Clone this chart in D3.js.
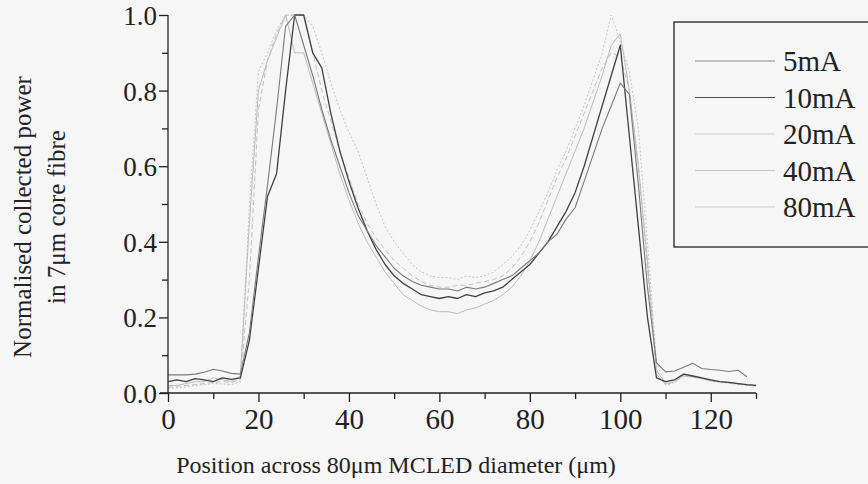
<!DOCTYPE html>
<html>
<head>
<meta charset="utf-8">
<script src="https://cdnjs.cloudflare.com/ajax/libs/d3/7.8.5/d3.min.js"></script>
<style>
  body { margin: 0; background: #f6f6f6; }
  svg { display: block; font-family: "Liberation Serif", "Times New Roman", serif; }
</style>
</head>
<body>
<div id="viz"></div>
<script>
// position across the MCLED (um), sampled every 2um
const positions = [0, 2, 4, 6, 8, 10, 12, 14, 16, 18, 20, 22, 24, 26, 28, 30, 32, 34, 36, 38,
  40, 42, 44, 46, 48, 50, 52, 54, 56, 58, 60, 62, 64, 66, 68, 70, 72, 74, 76, 78,
  80, 82, 84, 86, 88, 90, 92, 94, 96, 98, 100, 102, 104, 106, 108, 110, 112, 114, 116, 118,
  120, 122, 124, 126, 128, 130];

const labels = ['5mA', '10mA', '20mA', '40mA', '80mA'];

const power5 = [0.048, 0.048, 0.048, 0.05, 0.055, 0.063, 0.058, 0.052, 0.05, 0.16, 0.36, 0.55, 0.75, 0.97, 1.0, 0.92, 0.84, 0.75, 0.67, 0.6,
  0.53, 0.47, 0.43, 0.39, 0.36, 0.33, 0.31, 0.295, 0.285, 0.28, 0.275, 0.275, 0.27, 0.28, 0.275, 0.28, 0.29, 0.3, 0.31, 0.33,
  0.35, 0.37, 0.4, 0.42, 0.46, 0.49, 0.56, 0.63, 0.7, 0.76, 0.82, 0.79, 0.55, 0.28, 0.08, 0.056, 0.058, 0.068, 0.079, 0.065,
  0.062, 0.06, 0.057, 0.06, 0.043, null];

const power10 = [0.03, 0.035, 0.03, 0.038, 0.035, 0.03, 0.04, 0.036, 0.04, 0.14, 0.33, 0.52, 0.58, 0.8, 1.0, 1.0, 0.9, 0.86, 0.74, 0.64,
  0.56, 0.49, 0.43, 0.38, 0.34, 0.31, 0.29, 0.275, 0.26, 0.255, 0.25, 0.255, 0.25, 0.26, 0.255, 0.265, 0.27, 0.28, 0.3, 0.32,
  0.34, 0.37, 0.4, 0.44, 0.48, 0.53, 0.6, 0.68, 0.76, 0.84, 0.92, 0.68, 0.44, 0.2, 0.04, 0.03, 0.035, 0.05, 0.045, 0.04,
  0.035, 0.03, 0.028, 0.025, 0.022, 0.02];

const power20 = [0.02, 0.02, 0.025, 0.03, 0.03, 0.04, 0.035, 0.03, 0.045, 0.45, 0.8, 0.88, 0.94, 1.0, 0.9, 0.9, 0.82, 0.74, 0.66, 0.58,
  0.51, 0.45, 0.4, 0.36, 0.32, 0.29, 0.26, 0.245, 0.23, 0.22, 0.215, 0.215, 0.21, 0.22, 0.225, 0.235, 0.245, 0.26, 0.28, 0.31,
  0.35, 0.4, 0.46, 0.52, 0.58, 0.64, 0.7, 0.77, 0.84, 0.92, 0.95, 0.8, 0.6, 0.35, 0.06, 0.025, 0.03, 0.045, 0.042, 0.038,
  0.032, 0.03, 0.028, 0.025, 0.022, 0.02];

const power40 = [0.015, 0.018, 0.02, 0.022, 0.025, 0.028, 0.03, 0.028, 0.035, 0.3, 0.75, 0.88, 0.95, 1.0, 1.0, 1.0, 0.9, 0.8, 0.72, 0.64,
  0.57, 0.5, 0.45, 0.41, 0.38, 0.35, 0.33, 0.31, 0.295, 0.285, 0.28, 0.28, 0.285, 0.285, 0.29, 0.295, 0.3, 0.31, 0.33, 0.36,
  0.4, 0.45, 0.51, 0.57, 0.62, 0.68, 0.74, 0.8, 0.86, 0.9, 0.89, 0.8, 0.6, 0.33, 0.05, 0.022, 0.03, 0.048, 0.045, 0.04,
  0.033, 0.03, 0.026, 0.024, 0.02, 0.018];

const power80 = [0.012, 0.014, 0.016, 0.02, 0.022, 0.025, 0.024, 0.022, 0.03, 0.5, 0.85, 0.9, 0.96, 1.0, 1.0, 1.0, 0.97, 0.9, 0.82, 0.75,
  0.69, 0.64, 0.57, 0.5, 0.44, 0.4, 0.37, 0.34, 0.32, 0.31, 0.305, 0.305, 0.3, 0.31, 0.305, 0.31, 0.32, 0.34, 0.36, 0.39,
  0.43, 0.48, 0.53, 0.59, 0.64, 0.7, 0.76, 0.83, 0.9, 1.0, 0.93, 0.85, 0.7, 0.4, 0.08, 0.02, 0.028, 0.045, 0.044, 0.038,
  0.032, 0.028, 0.026, 0.023, 0.02, 0.018];

const xTicks = [0, 20, 40, 60, 80, 100, 120];
const yTicks = [0.0, 0.2, 0.4, 0.6, 0.8, 1.0];

const w = 868;
const h = 484;
const plotLeft = 168, plotRight = 756, plotTop = 15, plotBottom = 393;

const svg = d3.select('#viz').
append('svg').
attr('width', w).
attr('height', h);

const xScale = d3.scaleLinear().
domain([0, 130]).
range([plotLeft, plotRight]);

const yScale = d3.scaleLinear().
domain([0, 1]).
range([plotBottom, plotTop]);

// series styles (grey shades, the light ones dashed / dotted)
const series = [
  { name: labels[0], values: power5, color: '#7a7a7a', width: 1.1, dash: null },
  { name: labels[1], values: power10, color: '#404040', width: 1.3, dash: null },
  { name: labels[2], values: power20, color: '#bcbcbc', width: 1, dash: null },
  { name: labels[3], values: power40, color: '#c0c0c0', width: 1, dash: '5,3' },
  { name: labels[4], values: power80, color: '#c4c4c4', width: 1, dash: '2,2' }];

const line = d3.line().
defined(d => d[1] !== null).
x(d => xScale(d[0])).
y(d => yScale(d[1]));

// draw light ones first so the dark lines sit on top
series.slice().reverse().forEach(s => {
  svg.append('path').
  datum(positions.map((p, i) => [p, s.values[i]])).
  attr('fill', 'none').
  attr('stroke', s.color).
  attr('stroke-width', s.width).
  attr('stroke-dasharray', s.dash).
  attr('stroke-linejoin', 'round').
  attr('d', line);
});

// x axis
const xAxis = d3.axisBottom(xScale).
tickValues(d3.range(0, 131, 10)).
tickSize(8).
tickFormat(d => xTicks.includes(d) ? d : '');

const gx = svg.append('g').
attr('transform', 'translate(0,' + plotBottom + ')').
call(xAxis);

gx.select('.domain').attr('d', 'M' + (plotLeft - 8) + ',0H' + plotRight).attr('stroke', '#222').attr('stroke-width', 1.3);
gx.selectAll('.tick line').
attr('stroke', '#222').
attr('stroke-width', 1.3).
attr('y2', d => d % 20 === 0 ? 9 : 6);
gx.selectAll('.tick text').
attr('y', 15).
attr('fill', '#222').
style('font-size', '29px').
style('font-family', '"Liberation Serif", serif');

// y axis
const yAxis = d3.axisLeft(yScale).
tickValues(d3.range(0, 11).map(d => d / 10)).
tickSize(8).
tickFormat(d => yTicks.some(t => Math.abs(t - d) < 1e-9) ? d.toFixed(1) : '');

const gy = svg.append('g').
attr('transform', 'translate(' + plotLeft + ',0)').
call(yAxis);

gy.select('.domain').attr('d', 'M0,' + plotTop + 'V' + plotBottom).attr('stroke', '#222').attr('stroke-width', 1.3);
gy.selectAll('.tick line').
attr('stroke', '#222').
attr('stroke-width', 1.3).
attr('x2', (d, i) => i % 2 === 0 ? -9 : -6);
gy.selectAll('.tick text').
attr('x', -11).
attr('dy', '0.35em').
attr('fill', '#222').
style('font-size', '27px').
style('font-family', '"Liberation Serif", serif');

// axis titles
svg.append('text').
attr('x', 396).
attr('y', 473).
attr('text-anchor', 'middle').
attr('fill', '#222').
style('font-size', '24px').
text('Position across 80μm MCLED diameter (μm)');

const yTitle = svg.append('text').
attr('transform', 'translate(31,217) rotate(-90)').
attr('text-anchor', 'middle').
attr('fill', '#222').
style('font-size', '25px');

yTitle.append('tspan').attr('x', 0).attr('y', 0).text('Normalised collected power');
yTitle.append('tspan').attr('x', 0).attr('y', 34).text('in 7μm core fibre');

// legend
const legend = svg.append('g');

legend.append('rect').
attr('x', 674).
attr('y', 22).
attr('width', 200).
attr('height', 225).
attr('fill', 'none').
attr('stroke', '#222').
attr('stroke-width', 1.3);

const legendColors = ['#8a8a8a', '#4a4a4a', '#cccccc', '#c4c4c4', '#cccccc'];

labels.forEach((name, i) => {
  const y = 61 + i * 36.5;
  legend.append('line').
  attr('x1', 695).
  attr('x2', 775).
  attr('y1', y).
  attr('y2', y).
  attr('stroke', legendColors[i]).
  attr('stroke-width', 1.2);
  legend.append('text').
  attr('x', 783).
  attr('y', y + 10).
  attr('fill', '#222').
  style('font-size', '29px').
  text(name);
});
</script>
</body>
</html>
